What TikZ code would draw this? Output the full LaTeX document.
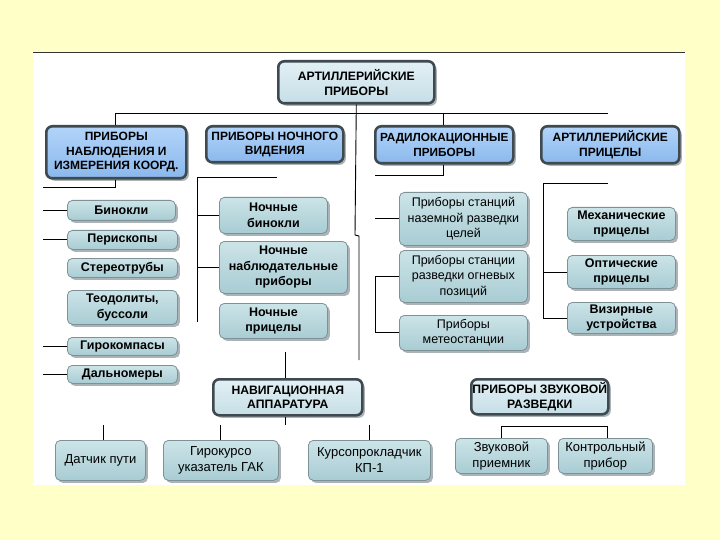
\documentclass[tikz,border=0pt]{standalone}
\usepackage{fontspec}
\setmainfont{Liberation Sans}
\usetikzlibrary{shadows}
\definecolor{bgyellow}{RGB}{255,255,200}
\definecolor{darkb}{RGB}{62,74,80}
\definecolor{itemb}{RGB}{125,145,150}
\definecolor{itemtop}{RGB}{204,228,232}
\definecolor{itembot}{RGB}{168,204,211}
\definecolor{cattop}{RGB}{178,212,250}
\definecolor{catbot}{RGB}{138,184,236}
\definecolor{toptop}{RGB}{226,240,245}
\definecolor{topbot}{RGB}{198,222,230}
\definecolor{shadowc}{RGB}{150,160,165}
\tikzset{
  base/.style={anchor=north west, align=center, inner sep=0pt,
    drop shadow={shadow xshift=2.5pt, shadow yshift=-2.5pt, fill=shadowc, opacity=0.8}},
  topbox/.style={base, draw=darkb, line width=2.6pt, rounded corners=6pt,
    top color=toptop, bottom color=topbot, font=\bfseries\fontsize{12.2}{14.5}\selectfont},
  catbox/.style={base, draw=darkb, line width=2.6pt, rounded corners=6pt,
    top color=cattop, bottom color=catbot, font=\bfseries\fontsize{12}{14.5}\selectfont},
  itembox/.style={base, draw=itemb, line width=0.8pt, rounded corners=5pt,
    top color=itemtop, bottom color=itembot, font=\bfseries\fontsize{12.5}{15.5}\selectfont},
  itemreg/.style={itembox, font=\fontsize{12.5}{15.5}\selectfont},
  itembig/.style={itembox, font=\fontsize{13}{16}\selectfont},
  conn/.style={draw=black, line width=0.9pt},
}
\newcommand{\bx}[7]{\node[#1, minimum width=#4pt, minimum height=#5pt] (#2) at (#3,#6) {#7};}
\begin{document}
\begin{tikzpicture}[x=1pt,y=-1pt]
\useasboundingbox (0,0) rectangle (720,540);
\fill[bgyellow] (0,0) rectangle (720,540);
\fill[white] (33,53) rectangle (685,485);
\coordinate (tl) at (33,53);
\coordinate (tr) at (685,53);
\draw[line width=1pt, black!80] (tl) -- (tr);

% top
\bx{topbox}{top}{277}{156}{42}{60}{АРТИЛЛЕРИЙСКИЕ\\ПРИБОРЫ}
% categories
\bx{catbox}{A}{45}{140}{52}{125}{ПРИБОРЫ\\НАБЛЮДЕНИЯ И\\ИЗМЕРЕНИЯ КООРД.}
\bx{catbox}{B}{205}{137}{36}{125}{ПРИБОРЫ НОЧНОГО\\ВИДЕНИЯ}
\bx{catbox, font=\bfseries\fontsize{11.8}{14.5}\selectfont}{C}{374}{138}{37}{125}{РАДИЛОКАЦИОННЫЕ\\ПРИБОРЫ}
\bx{catbox}{D}{540}{138}{37}{125}{АРТИЛЛЕРИЙСКИЕ\\ПРИЦЕЛЫ}

% A items
\bx{itembox}{a1}{67}{108}{20}{200}{Бинокли}
\bx{itembox}{a2}{67}{110}{19}{230}{Перископы}
\bx{itembox}{a3}{67}{110}{19}{258}{Стереотрубы}
\bx{itembox}{a4}{67}{110}{34}{290}{Теодолиты,\\буссоли}
\bx{itembox}{a5}{67}{110}{18}{337}{Гирокомпасы}
\bx{itembox}{a6}{67}{110}{18}{365}{Дальномеры}

% B items
\bx{itembox}{b1}{219}{108}{36}{197}{Ночные\\бинокли}
\bx{itembox}{b2}{219}{128}{52}{241}{Ночные\\наблюдательные\\приборы}
\bx{itembox}{b3}{219}{108}{35}{303}{Ночные\\прицелы}

% C items
\bx{itemreg}{c1}{399}{128}{53}{192}{Приборы станций\\наземной разведки\\целей}
\bx{itemreg}{c2}{399}{128}{52}{250}{Приборы станции\\разведки огневых\\позиций}
\bx{itemreg}{c3}{399}{128}{35}{315}{Приборы\\метеостанции}

% D items
\bx{itembox}{d1}{567}{108}{33}{207}{Механические\\прицелы}
\bx{itembox}{d2}{567}{108}{33}{255}{Оптические\\прицелы}
\bx{itembox}{d3}{567}{108}{31}{302}{Визирные\\устройства}

% bottom
\bx{topbox}{nav}{212}{149}{36}{378}{НАВИГАЦИОННАЯ\\АППАРАТУРА}
\bx{topbox}{zv}{470}{137}{35}{378}{ПРИБОРЫ ЗВУКОВОЙ\\РАЗВЕДКИ}
\bx{itembig}{n1}{55}{90}{40}{440}{Датчик пути}
\bx{itembig}{n2}{163}{115}{40}{440}{Гирокурсо\\указатель ГАК}
\bx{itembig}{n3}{308}{122}{40}{440}{Курсопрокладчик\\КП-1}
\bx{itembig}{z1}{455}{92}{35}{438}{Звуковой\\приемник}
\bx{itembig}{z2}{558}{94}{35}{438}{Контрольный\\прибор}

% ---- connectors ----
\coordinate (hL) at (115,113);
\coordinate (hR) at (608,113);
\coordinate (hC) at (443,113);
\coordinate (topdown) at (355,235);
\coordinate (topjog) at (359,236);
\coordinate (topend) at (359,360);
\draw[conn] (hL) -- (hR);
\draw[conn] (hL) -- (A.north -| hL);
\draw[conn] (hC) -- (C.north -| hC);
\draw[conn] (top.south) -- (topdown) -- (topjog) -- (topend);

% A bracket
\coordinate (aY) at (115,187);
\coordinate (aX) at (43,187);
\draw[conn] (A.south -| aY) -- (aY) -- (aX);
\foreach \n in {a1,a2,a5,a6}{
  \draw[conn] (\n.west) -- ++(-24,0);
}

% B bracket
\coordinate (bT) at (277,177);
\coordinate (bC) at (197,177);
\coordinate (bE) at (197,322);
\draw[conn] (bT) -- (bC) -- (bE);
\draw[conn] (b1.west) -- (b1.west -| bC);
\draw[conn] (b2.west) -- (b2.west -| bC);

% C bracket
\coordinate (cY) at (443,175);
\coordinate (cX) at (375,175);
\draw[conn] (C.south -| cY) -- (cY) -- (cX);
\coordinate (c1L) at (375,218);
\draw[conn] (c1L) -- (c1L -| c1.west);
\coordinate (c2L) at (375,276);
\coordinate (c3L) at (375,332);
\draw[conn] (c2L -| c2.west) -- (c2L) -- (c3L) -- (c3L -| c3.west);

% D bracket
\coordinate (dR) at (608,183);
\coordinate (dC) at (543,183);
\coordinate (d2L) at (543,272);
\coordinate (d3L) at (543,318);
\draw[conn] (dR) -- (dC) -- (d3L) -- (d3L -| d3.west);
\draw[conn] (d2L) -- (d2L -| d2.west);

% navigation stubs
\coordinate (navT) at (285,352);
\draw[conn] (navT) -- (nav.north -| navT);
\coordinate (navB) at (285,425);
\draw[conn] (nav.south -| navB) -- (navB);
\coordinate (n1T) at (103,425);
\coordinate (n2T) at (220,425);
\coordinate (n3T) at (369,425);
\draw[conn] (n1T) -- (n1.north -| n1T);
\draw[conn] (n2T) -- (n2.north -| n2T);
\draw[conn] (n3T) -- (n3.north -| n3T);

% sound bracket
\coordinate (zL) at (501,426);
\coordinate (zR) at (607,426);
\draw[conn] (z1.north -| zL) -- (zL) -- (zR) -- (z2.north -| zR);
\end{tikzpicture}
\end{document}
